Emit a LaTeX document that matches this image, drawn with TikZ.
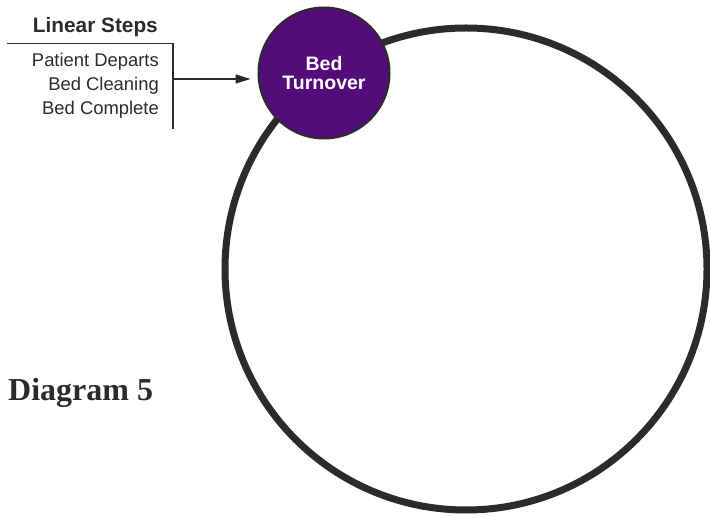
\documentclass[tikz,border=0pt]{standalone}
\usepackage{fontspec}
\setmainfont{Liberation Serif}
\setsansfont{Liberation Sans}
\usetikzlibrary{positioning, arrows.meta}
\definecolor{ink}{HTML}{2B2B2B}
\definecolor{bedpurple}{HTML}{530C79}

\begin{document}
\begin{tikzpicture}[x=1pt, y=-1pt, >={Triangle[length=15pt, width=9pt]},
    steplabel/.style={anchor=base east, inner sep=0, text=ink, font=\sffamily\fontsize{18.4}{22}\selectfont}]
    \useasboundingbox (0,0) rectangle (710,518);
    % the cycle and its entry point
    \node[circle, draw=ink, line width=7pt, minimum size=482pt, inner sep=0] (cycle) at (466,269) {};
    \node[circle, draw=ink, line width=2pt, fill=bedpurple, minimum size=131pt, inner sep=0, text=white, align=center, font=\sffamily\bfseries\fontsize{19.5}{19}\selectfont] (turnover) at (324,73) {Bed\\Turnover};
    % linear steps
    \node[steplabel, font=\sffamily\bfseries\fontsize{20.8}{24}\selectfont] (head) at (158,32.7) {Linear Steps};
    \node[steplabel] (depart) at (159,67) {Patient Departs};
    \node[steplabel] (clean) at (159,90.7) {Bed Cleaning};
    \node[steplabel] (complete) at (159,114.3) {Bed Complete};
    \coordinate (bracketL) at (7,43.3);
    \coordinate (bracketC) at (173,43.3);
    \coordinate (bracketB) at (173,129);
    \coordinate (bracketM) at (173,79);
    \draw[ink, line width=1.3pt] (bracketL) -- (bracketC) -- (bracketB);
    \draw[->, ink, line width=1.3pt, shorten >=7pt] (bracketM) -- (bracketM -| turnover.west);
    \node[anchor=base west, inner sep=0, text=ink, font=\bfseries\fontsize{32}{38}\selectfont] (title) at (8,401) {Diagram 5};
\end{tikzpicture}
\end{document}
